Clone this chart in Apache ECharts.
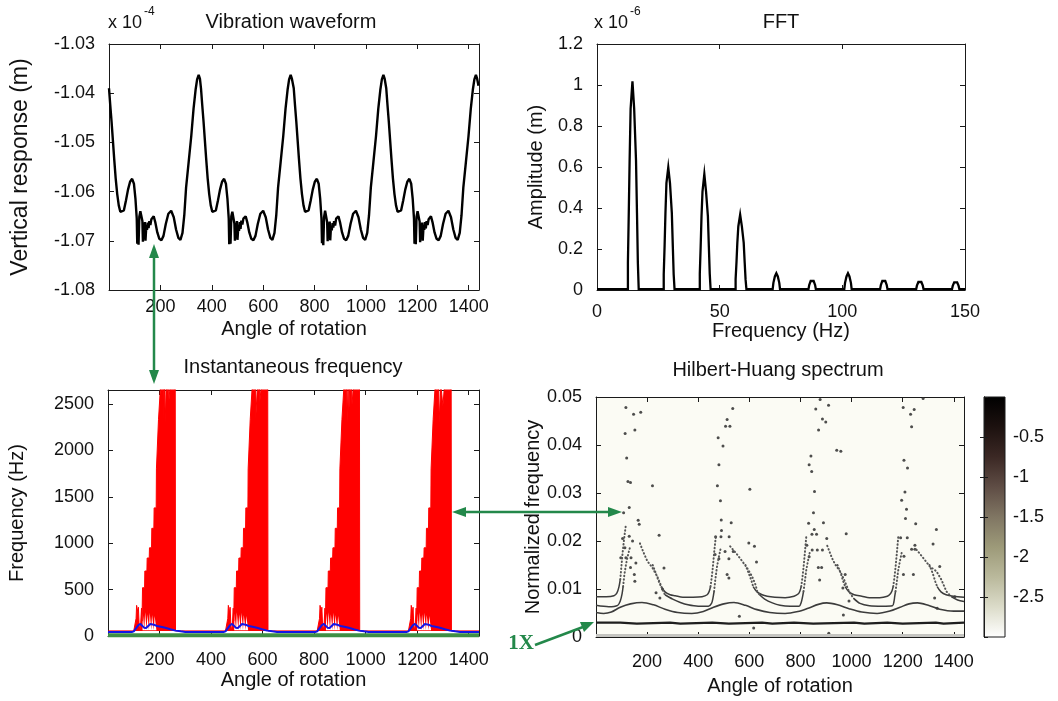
<!DOCTYPE html>
<html>
<head>
<meta charset="utf-8">
<title>Vibration waveform / FFT / Instantaneous frequency / Hilbert-Huang spectrum</title>
<script src="https://cdn.jsdelivr.net/npm/echarts@6/dist/echarts.min.js"></script>
<style>
html, body { margin: 0; padding: 0; background: #fff; }
#main { width: 1058px; height: 701px; }
</style>
</head>
<body>
<div id="main"></div>
<script>
// ---- data ----
// vibration waveform, angle (deg) vs vertical response (x 1e-4 m)
var waveform = [
  [0,-1.0390],[5,-1.0425],[10,-1.0458],[15,-1.0495],[20,-1.0532],[26,-1.0573],[32,-1.0605],[38,-1.0628],[44,-1.0641],[51,-1.0645],[58,-1.0638],[66,-1.0618],[74,-1.0596],[82,-1.0580],[90,-1.0574],[97,-1.0584],[103,-1.0615],[108,-1.0655],
  [110,-1.0706],[112,-1.0667],[115,-1.0708],[118,-1.0651],[122,-1.0640],[127,-1.0636],[130,-1.0660],[132,-1.0702],[134,-1.0668],[137,-1.0680],[140,-1.0662],[142,-1.0700],[145,-1.0672],[148,-1.0678],[151,-1.0663],[154,-1.0674],[157,-1.0660],[161,-1.0668],[165,-1.0656],[169,-1.0652],[174,-1.0650],
  [180,-1.0662],[188,-1.0683],[196,-1.0696],[204,-1.0699],[212,-1.0690],[221,-1.0666],[231,-1.0645],[242,-1.0639],[252,-1.0652],[261,-1.0677],[270,-1.0694],[278,-1.0698],[286,-1.0684],[293,-1.0648],[300,-1.0592],[310,-1.0540],[320,-1.0488],[329,-1.0432],[337,-1.0393],[343,-1.0372],[349,-1.0363],[354,-1.0371],
  [358,-1.0390],[363,-1.0425],[368,-1.0458],[373,-1.0495],[378,-1.0532],[384,-1.0573],[390,-1.0605],[396,-1.0628],[402,-1.0641],[409,-1.0645],[416,-1.0638],[424,-1.0618],[432,-1.0596],[440,-1.0580],[448,-1.0574],[455,-1.0584],[461,-1.0615],[466,-1.0655],
  [468,-1.0707],[470,-1.0664],[473,-1.0706],[476,-1.0650],[480,-1.0641],[485,-1.0637],[488,-1.0665],[490,-1.0700],[492,-1.0671],[495,-1.0682],[498,-1.0660],[500,-1.0698],[503,-1.0674],[506,-1.0680],[509,-1.0662],[512,-1.0676],[515,-1.0659],[519,-1.0667],[523,-1.0655],[527,-1.0651],[532,-1.0650],
  [538,-1.0662],[546,-1.0683],[554,-1.0696],[562,-1.0699],[570,-1.0690],[579,-1.0666],[589,-1.0645],[600,-1.0639],[610,-1.0652],[619,-1.0677],[628,-1.0694],[636,-1.0698],[644,-1.0684],[651,-1.0648],[658,-1.0592],[668,-1.0540],[678,-1.0488],[687,-1.0432],[695,-1.0393],[701,-1.0372],[707,-1.0363],[712,-1.0371],
  [719,-1.0390],[724,-1.0425],[729,-1.0458],[734,-1.0495],[739,-1.0532],[745,-1.0573],[751,-1.0605],[757,-1.0628],[763,-1.0641],[770,-1.0645],[777,-1.0638],[785,-1.0618],[793,-1.0596],[801,-1.0580],[809,-1.0574],[816,-1.0584],[822,-1.0615],[827,-1.0655],
  [829,-1.0705],[831,-1.0668],[834,-1.0709],[837,-1.0652],[841,-1.0639],[846,-1.0636],[849,-1.0662],[851,-1.0701],[853,-1.0667],[856,-1.0681],[859,-1.0661],[861,-1.0699],[864,-1.0671],[867,-1.0679],[870,-1.0664],[873,-1.0673],[876,-1.0660],[880,-1.0669],[884,-1.0655],[888,-1.0652],[893,-1.0650],
  [899,-1.0662],[907,-1.0683],[915,-1.0696],[923,-1.0699],[931,-1.0690],[940,-1.0666],[950,-1.0645],[961,-1.0639],[971,-1.0652],[980,-1.0677],[989,-1.0694],[997,-1.0698],[1005,-1.0684],[1012,-1.0648],[1019,-1.0592],[1029,-1.0540],[1039,-1.0488],[1048,-1.0432],[1056,-1.0393],[1062,-1.0372],[1068,-1.0363],[1073,-1.0371],
  [1079,-1.0390],[1084,-1.0425],[1089,-1.0458],[1094,-1.0495],[1099,-1.0532],[1105,-1.0573],[1111,-1.0605],[1117,-1.0628],[1123,-1.0641],[1130,-1.0645],[1137,-1.0638],[1145,-1.0618],[1153,-1.0596],[1161,-1.0580],[1169,-1.0574],[1176,-1.0584],[1182,-1.0615],[1187,-1.0655],
  [1189,-1.0706],[1191,-1.0666],[1194,-1.0707],[1197,-1.0651],[1201,-1.0640],[1206,-1.0637],[1209,-1.0661],[1211,-1.0703],[1213,-1.0669],[1216,-1.0680],[1219,-1.0663],[1221,-1.0700],[1224,-1.0672],[1227,-1.0678],[1230,-1.0662],[1233,-1.0675],[1236,-1.0660],[1240,-1.0668],[1244,-1.0656],[1248,-1.0652],[1253,-1.0650],
  [1259,-1.0662],[1267,-1.0683],[1275,-1.0696],[1283,-1.0699],[1291,-1.0690],[1300,-1.0666],[1310,-1.0645],[1321,-1.0639],[1331,-1.0652],[1340,-1.0677],[1349,-1.0694],[1357,-1.0698],[1365,-1.0684],[1372,-1.0648],[1379,-1.0592],[1389,-1.0540],[1399,-1.0488],[1408,-1.0432],[1416,-1.0393],[1422,-1.0372],[1428,-1.0363],[1433,-1.0371],[1438,-1.0385]
];

// FFT, frequency (Hz) vs amplitude (x 1e-6 m); the big peaks are stair-stepped towers
var fftSpectrum = [
  [0,0.004],[12.6,0.004],
  [12.6,0.134],[12.95,0.134],[12.95,0.376],[13.3,0.376],[13.3,0.634],[13.7,0.634],[13.7,0.884],[14.45,0.884],[14.45,1.018],[15.15,1.018],[15.15,0.884],[15.9,0.884],[15.9,0.634],[16.3,0.634],[16.3,0.376],[16.65,0.376],[16.65,0.134],[17.0,0.134],[17.0,0.004],
  [27.2,0.004],[27.2,0.077],[27.55,0.077],[27.55,0.214],[27.9,0.214],[27.9,0.376],[28.3,0.376],[28.3,0.521],[29.05,0.521],[29.05,0.598],[29.75,0.598],[29.75,0.521],[30.5,0.521],[30.5,0.376],[30.9,0.376],[30.9,0.214],[31.25,0.214],[31.25,0.077],[31.6,0.077],[31.6,0.004],
  [41.9,0.004],[41.9,0.08],[42.25,0.08],[42.25,0.21],[42.6,0.21],[42.6,0.36],[43.0,0.36],[43.0,0.48],[43.75,0.48],[43.75,0.565],[44.45,0.565],[44.45,0.48],[45.2,0.48],[45.2,0.36],[45.6,0.36],[45.6,0.21],[45.95,0.21],[45.95,0.08],[46.3,0.08],[46.3,0.004],
  [56.5,0.004],[56.5,0.053],[56.85,0.053],[56.85,0.134],[57.2,0.134],[57.2,0.23],[57.6,0.23],[57.6,0.31],[58.35,0.31],[58.35,0.367],[59.05,0.367],[59.05,0.31],[59.8,0.31],[59.8,0.23],[60.2,0.23],[60.2,0.134],[60.55,0.134],[60.55,0.053],[60.9,0.053],[60.9,0.004],
  [71.6,0.004],[71.9,0.035],[72.5,0.066],[73.1,0.082],[73.7,0.066],[74.3,0.035],[74.6,0.004],
  [86.2,0.004],[86.5,0.024],[87.1,0.044],[87.7,0.053],[88.3,0.044],[88.9,0.024],[89.2,0.004],
  [100.8,0.004],[101.1,0.035],[101.7,0.066],[102.3,0.082],[102.9,0.066],[103.5,0.035],[103.8,0.004],
  [115.4,0.004],[115.7,0.024],[116.3,0.044],[116.9,0.053],[117.5,0.044],[118.1,0.024],[118.4,0.004],
  [130.1,0.004],[130.4,0.021],[131.0,0.039],[131.6,0.047],[132.2,0.039],[132.8,0.021],[133.1,0.004],
  [144.7,0.004],[145.0,0.020],[145.6,0.037],[146.2,0.045],[146.8,0.037],[147.4,0.020],[147.7,0.004],
  [150,0.004]
];

// instantaneous frequency (Hz): upper edge of the red band
var instRed = [
  [0,55],[100,55],[106,70],[109,190],[111,330],[114,320],[116,250],[118,310],[121,110],[124,60],[127,140],[130,300],[132,160],
  [134,520],[142,520],[143,700],[151,700],[152,840],[160,840],[161,950],[169,950],[170,1160],[178,1160],[179,1380],[187,1380],[188,1800],[195,1800],[196,2330],[203,2330],[204,2700],
  [215,2700],[216,2310],[219,2290],[220,2700],[221,2700],[222,2300],[225,2290],[226,2700],[234,2700],[235,2480],[240,2500],[241,2700],[261,2700],[262,55],
  [456,55],[462,70],[465,190],[467,330],[470,320],[472,250],[474,310],[477,110],[480,60],[483,140],[486,300],[488,160],
  [490,520],[498,520],[499,700],[507,700],[508,840],[516,840],[517,950],[525,950],[526,1160],[534,1160],[535,1380],[543,1380],[544,1800],[551,1800],[552,2330],[559,2330],[560,2700],
  [572,2700],[573,2320],[579,2300],[580,2700],[588,2700],[589,2510],[594,2500],[595,2700],[620,2700],[621,55],
  [812,55],[818,70],[821,190],[823,330],[826,320],[828,250],[830,310],[833,110],[836,60],[839,140],[842,300],[844,160],
  [846,520],[854,520],[855,700],[863,700],[864,840],[872,840],[873,950],[881,950],[882,1160],[890,1160],[891,1380],[899,1380],[900,1800],[907,1800],[908,2330],[915,2330],[916,2700],
  [927,2700],[928,2300],[931,2290],[932,2700],[933,2700],[934,2310],[937,2300],[938,2700],[946,2700],[947,2490],[952,2500],[953,2700],[976,2700],[977,55],
  [1166,55],[1172,70],[1175,190],[1177,330],[1180,320],[1182,250],[1184,310],[1187,110],[1190,60],[1193,140],[1196,300],[1198,160],
  [1200,520],[1208,520],[1209,700],[1217,700],[1218,840],[1226,840],[1227,950],[1235,950],[1236,1160],[1244,1160],[1245,1380],[1253,1380],[1254,1800],[1261,1800],[1262,2330],[1269,2330],[1270,2700],
  [1284,2700],[1285,2300],[1291,2280],[1292,2700],[1299,2700],[1300,2480],[1305,2500],[1306,2700],[1332,2700],[1333,55],[1440,55]
];

// white pockets under the red ramps (lower value 62 Hz)
var instGaps = [
  [0,62],[134,62],[135,245],[140,245],[141,62],[143,62],[144,255],[149,255],[150,62],[152,62],[153,235],[158,235],[159,62],[161,62],[162,250],[167,250],[168,62],[170,62],[171,225],[177,225],[178,62],[180,62],[181,215],[187,215],[188,62],
  [490,62],[491,245],[496,245],[497,62],[499,62],[500,255],[505,255],[506,62],[508,62],[509,235],[514,235],[515,62],[517,62],[518,250],[523,250],[524,62],[526,62],[527,225],[533,225],[534,62],[536,62],[537,215],[543,215],[544,62],
  [846,62],[847,245],[852,245],[853,62],[855,62],[856,255],[861,255],[862,62],[864,62],[865,235],[870,235],[871,62],[873,62],[874,250],[879,250],[880,62],[882,62],[883,225],[889,225],[890,62],[892,62],[893,215],[899,215],[900,62],
  [1200,62],[1201,245],[1206,245],[1207,62],[1209,62],[1210,255],[1215,255],[1216,62],[1218,62],[1219,235],[1224,235],[1225,62],[1227,62],[1228,250],[1233,250],[1234,62],[1236,62],[1237,225],[1243,225],[1244,62],[1246,62],[1247,215],[1253,215],[1254,62],[1440,62]
];

var instBlue = [
  [0,42],[92,42],[100,50],[110,88],[118,118],[126,130],[133,110],[140,90],[148,86],[156,108],[164,130],[170,138],[178,122],[190,108],[205,100],[222,88],[242,72],[262,58],[282,50],[300,44],[320,42],
  [448,42],[456,50],[466,88],[474,118],[482,130],[489,110],[496,90],[504,86],[512,108],[520,130],[526,138],[534,122],[546,108],[561,100],[578,88],[598,72],[618,58],[638,50],[656,44],[676,42],
  [804,42],[812,50],[822,88],[830,118],[838,130],[845,110],[852,90],[860,86],[868,108],[876,130],[882,138],[890,122],[902,108],[917,100],[934,88],[954,72],[974,58],[994,50],[1012,44],[1032,42],
  [1158,42],[1166,50],[1176,88],[1184,118],[1192,130],[1199,110],[1206,90],[1214,86],[1222,108],[1230,130],[1236,138],[1244,122],[1256,108],[1271,100],[1288,88],[1308,72],[1328,58],[1348,50],[1366,44],[1386,42],[1440,42]
];

var instGreen = [[0,8],[1440,8]];

// Hilbert-Huang spectrum (normalized frequency)
var GAP = ['-', '-'];
var hhs1X = [
  [0,0.0030],[95,0.0030],[95,0.0028],[160,0.0028],[160,0.0030],[290,0.0030],[290,0.0028],[330,0.0028],[330,0.0030],[455,0.0030],[455,0.0028],[520,0.0028],[520,0.0030],
  [650,0.0030],[650,0.0028],[690,0.0028],[690,0.0030],[775,0.0030],[775,0.0028],[850,0.0028],[850,0.0030],[1010,0.0030],[1010,0.0028],[1050,0.0028],[1050,0.0030],
  [1140,0.0030],[1140,0.0028],[1200,0.0028],[1200,0.0030],[1330,0.0030],[1330,0.0028],[1360,0.0028],[1360,0.0030],[1440,0.0030]
];
var hhsLow = [
  [0,0.0051],[30,0.0049],[60,0.0052],[95,0.0062],[135,0.0069],[180,0.0072],[225,0.0067],[270,0.0058],[320,0.0051],[375,0.0049],[420,0.0053],[460,0.0062],[500,0.0069],[540,0.0072],
  [585,0.0066],[630,0.0057],[680,0.0051],[740,0.0049],[790,0.0053],[830,0.0060],[870,0.0068],[903,0.0071],[945,0.0067],[990,0.0059],[1040,0.0052],[1100,0.0049],[1150,0.0054],
  [1190,0.0062],[1225,0.0069],[1258,0.0071],[1300,0.0066],[1345,0.0058],[1400,0.0054],[1440,0.0054]
];
var hhsUpperA = [
  [0,0.0084],[40,0.0084],[70,0.0086],[82,0.0092],[90,0.0105],[95,0.0120],GAP,
  [255,0.0105],[270,0.0094],[290,0.0088],[310,0.0086],[340,0.0083],[380,0.0083],[415,0.0084],[435,0.0088],[443,0.0095],[448,0.0105],GAP,
  [615,0.0105],[630,0.0094],[650,0.0088],[670,0.0085],[700,0.0083],[740,0.0082],[775,0.0085],[792,0.0090],[798,0.0096],[803,0.0105],GAP,
  [975,0.0105],[990,0.0094],[1010,0.0088],[1040,0.0085],[1070,0.0082],[1110,0.0082],[1140,0.0085],[1152,0.0090],[1158,0.0096],[1163,0.0105],GAP,
  [1335,0.0105],[1350,0.0094],[1370,0.0088],[1400,0.0085],[1440,0.0083]
];
var hhsUpperB = [
  [0,0.0066],[50,0.0063],[85,0.0066],[95,0.0075],[102,0.0090],[106,0.0105],GAP,
  [270,0.0088],[300,0.0079],[330,0.0072],[360,0.0067],[400,0.0064],[440,0.0064],[452,0.0070],[458,0.0082],[462,0.0095],GAP,
  [640,0.0088],[660,0.0079],[690,0.0071],[720,0.0066],[760,0.0064],[795,0.0064],[803,0.0072],[808,0.0083],[812,0.0095],GAP,
  [1007,0.0081],[1033,0.0070],[1070,0.0065],[1120,0.0064],[1160,0.0065],[1166,0.0074],[1169,0.0085],[1172,0.0095],GAP,
  [1390,0.0084],[1415,0.0077],[1440,0.0074]
];
var hhsBranches = [
  [95,0.0120],[99,0.0145],[104,0.0175],[110,0.0205],[116,0.0230],GAP,
  [106,0.0105],[111,0.0130],[117,0.0150],[124,0.0168],[132,0.0185],GAP,
  [172,0.0195],[186,0.0176],[201,0.0158],[221,0.0144],[240,0.0126],[253,0.0109],[262,0.0097],[270,0.0088],GAP,
  [222,0.0150],[232,0.0136],[242,0.0121],[250,0.0110],[255,0.0105],GAP,
  [448,0.0105],[453,0.0125],[458,0.0150],[463,0.0180],[469,0.0210],GAP,
  [462,0.0095],[467,0.0120],[473,0.0145],[480,0.0165],[488,0.0185],GAP,
  [525,0.0189],[552,0.0172],[572,0.0158],[591,0.0144],[611,0.0126],[624,0.0109],[631,0.0095],[640,0.0088],GAP,
  [585,0.0150],[598,0.0132],[608,0.0118],[615,0.0105],GAP,
  [803,0.0105],[808,0.0125],[813,0.0150],[818,0.0180],[823,0.0210],GAP,
  [812,0.0095],[817,0.0115],[822,0.0137],[830,0.0160],[838,0.0180],GAP,
  [905,0.0190],[923,0.0165],[936,0.0151],[955,0.0137],[968,0.0123],[979,0.0109],[990,0.0095],[1007,0.0081],GAP,
  [945,0.0150],[958,0.0132],[968,0.0115],[975,0.0105],GAP,
  [1163,0.0105],[1168,0.0125],[1173,0.0150],[1178,0.0180],[1183,0.0210],GAP,
  [1172,0.0095],[1177,0.0115],[1182,0.0137],[1190,0.0160],[1198,0.0180],GAP,
  [1254,0.0182],[1280,0.0165],[1306,0.0147],[1332,0.0137],[1352,0.0119],[1371,0.0095],[1390,0.0084],GAP,
  [1305,0.0150],[1318,0.0132],[1328,0.0115],[1335,0.0105]
];
var hhsDots = [
  [117,0.0478],[147,0.0464],[175,0.0468],[114,0.0424],[152,0.0431],[120,0.0373],[125,0.0324],[135,0.0322],[221,0.0315],[130,0.0270],[108,0.0259],[165,0.0243],[169,0.0235],
  [130,0.0210],[104,0.0205],[247,0.0212],[113,0.0186],[143,0.0200],[97,0.0165],[117,0.0165],[137,0.0165],[150,0.0130],[152,0.0116],[266,0.0144],[135,0.0145],[156,0.0154],[260,0.0100],[250,0.0081],[235,0.0092],
  [535,0.0476],[513,0.0453],[507,0.0439],[524,0.0439],[478,0.0415],[497,0.0398],[481,0.0359],[602,0.0308],[475,0.0315],[487,0.0284],[490,0.0244],[491,0.0222],[529,0.0238],
  [468,0.0209],[489,0.0209],[521,0.0209],[598,0.0196],[620,0.0189],[505,0.0178],[537,0.0178],[466,0.0172],[481,0.0163],[520,0.0163],[628,0.0156],[513,0.0130],[520,0.0123],[561,0.0043],[617,0.0019],
  [877,0.0495],[860,0.0475],[910,0.0483],[886,0.0454],[899,0.0448],[871,0.0431],[942,0.0389],[958,0.0387],[841,0.0377],[834,0.0359],[844,0.0345],[855,0.0303],[851,0.0259],
  [832,0.0237],[890,0.0238],[854,0.0224],[845,0.0214],[863,0.0214],[903,0.0205],[979,0.0215],[825,0.0191],[846,0.0181],[866,0.0181],[886,0.0181],[834,0.0167],[870,0.0145],[883,0.0145],
  [975,0.0130],[875,0.0119],[966,0.0102],[990,0.0075],[968,0.0046],[911,0.0008],
  [1202,0.0478],[1245,0.0474],[1231,0.0464],[1235,0.0438],[1280,0.0497],[1205,0.0368],[1219,0.0352],[1209,0.0302],[1196,0.0285],[1215,0.0266],[1211,0.0247],[1251,0.0236],[1332,0.0224],
  [1192,0.0207],[1218,0.0207],[1319,0.0194],[1248,0.0191],[1205,0.0168],[1235,0.0183],[1248,0.0183],[1203,0.0130],[1242,0.0130],[1345,0.0147],[1325,0.0081],[1404,0.0084],[1335,0.0060]
];
var hhsFloor = [[0,0.0003],[1440,0.0003]];

// colour bar of the spectrum (log amplitude)
var cbarTicks = { min: -3, max: 0, interval: 0.5 };
var cbarColors = ['#000000', '#1c110f', '#3b2824', '#5f4d45', '#807663', '#9d9a79', '#bab99c', '#dcdcca', '#ffffff'];

// ---- chart ----
var FONT = '"Liberation Sans", Arial, sans-serif';
var INK = '#1a1a1a';
var GREEN = '#23884a';

function plain(v) { return String(v); }

function boxX(grid, min, max, interval, name, margin, nameGap, hideEnds) {
  var common = {
    type: 'value', gridIndex: grid, min: min, max: max, interval: interval,
    axisLine: { show: true, onZero: false, lineStyle: { color: INK, width: 1 } },
    axisTick: { show: true, inside: true, length: 5, lineStyle: { color: INK } },
    splitLine: { show: false }
  };
  return [
    Object.assign({}, common, {
      position: 'bottom', name: name, nameLocation: 'middle', nameGap: nameGap,
      nameTextStyle: { fontSize: 20, color: '#111', fontFamily: FONT },
      axisLabel: { fontSize: 18, color: '#111', fontFamily: FONT, margin: margin, formatter: plain,
                   showMinLabel: !hideEnds, showMaxLabel: !hideEnds }
    }),
    Object.assign({}, common, { position: 'top', axisLabel: { show: false } })
  ];
}

function boxY(grid, min, max, interval, name, nameGap, nameSize, fmt, hideMax) {
  var common = {
    type: 'value', gridIndex: grid, min: min, max: max, interval: interval,
    axisLine: { show: true, onZero: false, lineStyle: { color: INK, width: 1 } },
    axisTick: { show: true, inside: true, length: 5, lineStyle: { color: INK } },
    splitLine: { show: false }
  };
  return [
    Object.assign({}, common, {
      position: 'left', name: name, nameLocation: 'middle', nameGap: nameGap,
      nameTextStyle: { fontSize: nameSize, color: '#111', fontFamily: FONT },
      axisLabel: { fontSize: 18, color: '#111', fontFamily: FONT, margin: 14, formatter: fmt || plain, showMaxLabel: !hideMax }
    }),
    Object.assign({}, common, { position: 'right', axisLabel: { show: false } })
  ];
}

function txt(s, x, y, size, align, extra) {
  var style = Object.assign({
    text: s, font: size + 'px ' + FONT, fill: '#111',
    align: align || 'center', verticalAlign: 'middle',
    textAlign: align || 'center', textVerticalAlign: 'middle'
  }, extra || {});
  return { type: 'text', x: x, y: y, style: style, z: 100 };
}

function arrowHead(tip, base1, base2) {
  return { type: 'polygon', shape: { points: [tip, base1, base2] }, style: { fill: GREEN }, z: 100 };
}

function seg(x1, y1, x2, y2) {
  return { type: 'line', shape: { x1: x1, y1: y1, x2: x2, y2: y2 }, style: { stroke: GREEN, lineWidth: 2.5 }, z: 100 };
}

var cbarGradient = {
  type: 'linear', x: 0, y: 0, x2: 0, y2: 1,
  colorStops: cbarColors.map(function (c, i) { return { offset: i / (cbarColors.length - 1), color: c }; })
};

var option = {
  animation: false,
  backgroundColor: '#ffffff',
  textStyle: { fontFamily: FONT },
  grid: [
    { left: 109, top: 44, width: 370, height: 246, outerBoundsMode: 'none' },
    { left: 597, top: 44, width: 368, height: 246, outerBoundsMode: 'none' },
    { left: 108, top: 390, width: 371, height: 246, outerBoundsMode: 'none' },
    { left: 596, top: 397, width: 368, height: 240, outerBoundsMode: 'none', show: true, backgroundColor: '#fbfbf4', borderWidth: 0 },
    { left: 984, top: 397, width: 21, height: 240, outerBoundsMode: 'none', show: true, backgroundColor: cbarGradient, borderColor: INK, borderWidth: 1 }
  ],
  xAxis: [].concat(
    boxX(0, 0, 1440, 200, 'Angle of rotation', 8, 29, true),
    boxX(1, 0, 150, 50, 'Frequency (Hz)', 13, 31, false),
    boxX(2, 0, 1440, 200, 'Angle of rotation', 15, 34, true),
    boxX(3, 0, 1440, 200, 'Angle of rotation', 16, 39, true),
    [{ type: 'value', gridIndex: 4, min: 0, max: 1, show: false }]
  ),
  yAxis: [].concat(
    boxY(0, -1.08, -1.03, 0.01, 'Vertical response (m)', 77, 23, function (v) { return v.toFixed(2); }, false),
    boxY(1, 0, 1.2, 0.2, 'Amplitude (m)', 51, 20, null, false),
    boxY(2, 0, 2650, 500, 'Frequency (Hz)', 81, 20, null, true),
    boxY(3, 0, 0.05, 0.01, 'Normalized frequency', 47, 20, null, false),
    [
      { type: 'value', gridIndex: 4, position: 'right', min: cbarTicks.min, max: cbarTicks.max, interval: cbarTicks.interval,
        axisLine: { show: true, lineStyle: { color: INK } },
        axisTick: { show: true, inside: true, length: 4, lineStyle: { color: INK } },
        splitLine: { show: false },
        axisLabel: { fontSize: 18, color: '#111', fontFamily: FONT, margin: 8, formatter: plain, showMinLabel: false, showMaxLabel: false } },
      { type: 'value', gridIndex: 4, position: 'left', min: cbarTicks.min, max: cbarTicks.max, interval: cbarTicks.interval,
        axisLine: { show: true, lineStyle: { color: INK } },
        axisTick: { show: true, inside: true, length: 4, lineStyle: { color: INK } },
        splitLine: { show: false }, axisLabel: { show: false } }
    ]
  ),
  series: [
    { name: 'waveform', type: 'line', xAxisIndex: 0, yAxisIndex: 0, data: waveform, showSymbol: false, symbol: 'none',
      lineStyle: { color: '#000', width: 2.4 } },
    { name: 'fft', type: 'line', xAxisIndex: 2, yAxisIndex: 2, data: fftSpectrum, showSymbol: false, symbol: 'none',
      lineStyle: { color: '#000', width: 2.3, join: 'miter' } },
    { name: 'inst red', type: 'line', xAxisIndex: 4, yAxisIndex: 4, data: instRed, showSymbol: false, symbol: 'none',
      lineStyle: { color: '#ff0000', width: 1 }, areaStyle: { color: '#ff0000', opacity: 1, origin: 55 } },
    { name: 'inst gaps', type: 'line', xAxisIndex: 4, yAxisIndex: 4, data: instGaps, showSymbol: false, symbol: 'none',
      lineStyle: { width: 0, opacity: 0 }, areaStyle: { color: '#ffffff', opacity: 1, origin: 62 } },
    { name: 'inst blue', type: 'line', xAxisIndex: 4, yAxisIndex: 4, data: instBlue, showSymbol: false, symbol: 'none',
      lineStyle: { color: '#1414e6', width: 2 } },
    { name: 'inst green', type: 'line', xAxisIndex: 4, yAxisIndex: 4, data: instGreen, showSymbol: false, symbol: 'none',
      lineStyle: { color: '#3f8f45', width: 4 } },
    { name: 'hhs floor', type: 'line', xAxisIndex: 6, yAxisIndex: 6, data: hhsFloor, showSymbol: false, symbol: 'none',
      lineStyle: { color: '#c4c4c0', width: 3 } },
    { name: 'hhs 1X', type: 'line', xAxisIndex: 6, yAxisIndex: 6, data: hhs1X, showSymbol: false, symbol: 'none',
      lineStyle: { color: '#1e1e1e', width: 2.2 } },
    { name: 'hhs low', type: 'line', xAxisIndex: 6, yAxisIndex: 6, data: hhsLow, smooth: 0.3, showSymbol: false, symbol: 'none',
      lineStyle: { color: '#3c3c3c', width: 1.6 } },
    { name: 'hhs A', type: 'line', xAxisIndex: 6, yAxisIndex: 6, data: hhsUpperA, smooth: 0.3, showSymbol: false, symbol: 'none',
      lineStyle: { color: '#3c3c3c', width: 1.5 } },
    { name: 'hhs B', type: 'line', xAxisIndex: 6, yAxisIndex: 6, data: hhsUpperB, smooth: 0.3, showSymbol: false, symbol: 'none',
      lineStyle: { color: '#3c3c3c', width: 1.5 } },
    { name: 'hhs branches', type: 'line', xAxisIndex: 6, yAxisIndex: 6, data: hhsBranches, showSymbol: false, symbol: 'none',
      lineStyle: { color: '#555', width: 2, type: [0.5, 3], cap: 'round' } },
    { name: 'hhs dots', type: 'scatter', xAxisIndex: 6, yAxisIndex: 6, data: hhsDots, symbolSize: 3,
      itemStyle: { color: '#2e2e2e', opacity: 0.85 } }
  ],
  graphic: [
    txt('Vibration waveform', 291, 22, 20),
    txt('x 10', 108, 23, 18, 'left'),
    txt('-4', 144, 12, 12, 'left'),
    txt('FFT', 781, 22, 20),
    txt('x 10', 594, 23, 18, 'left'),
    txt('-6', 630, 12, 12, 'left'),
    txt('Instantaneous frequency', 293, 367, 20),
    txt('Hilbert-Huang spectrum', 778, 370, 20),
    // vertical double arrow
    seg(154, 256, 154, 372),
    arrowHead([154, 244], [149, 258], [159, 258]),
    arrowHead([154, 384], [149, 370], [159, 370]),
    // horizontal double arrow
    seg(464, 512, 610, 512),
    arrowHead([452, 512], [466, 507], [466, 517]),
    arrowHead([622, 512], [608, 507], [608, 517]),
    // 1X pointer
    seg(535, 645, 583, 627),
    arrowHead([594, 622], [584, 632], [580, 622]),
    txt('1X', 521, 644, 21, 'center', { font: 'bold 21px "Liberation Serif", "Times New Roman", serif', fill: GREEN })
  ]
};

var chart = echarts.init(document.getElementById('main'));
chart.setOption(option);
</script>
</body>
</html>
